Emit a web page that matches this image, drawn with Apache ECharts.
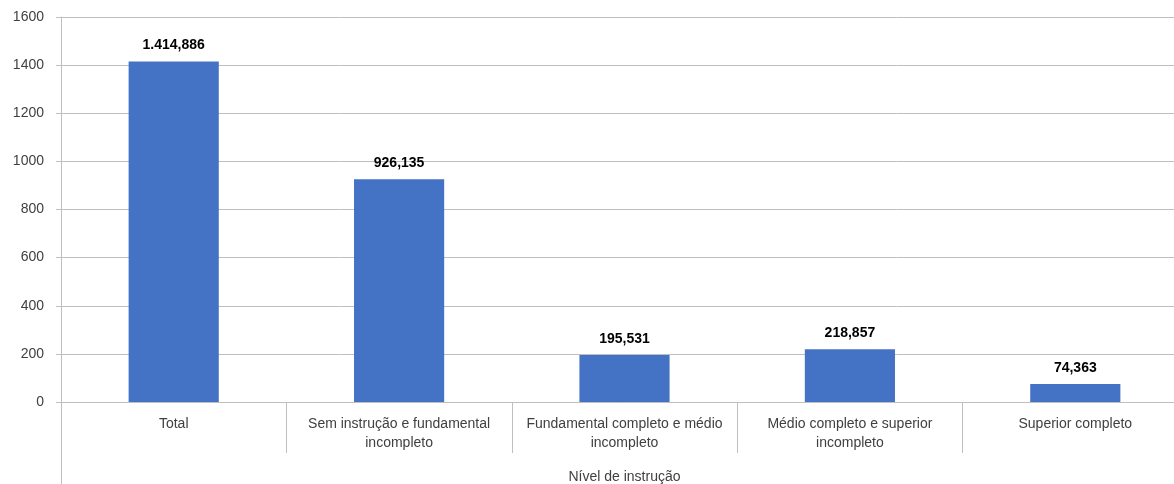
<!DOCTYPE html>
<html>
<head>
<meta charset="utf-8">
<script src="https://cdn.jsdelivr.net/npm/echarts@6/dist/echarts.min.js"></script>
<style>
html,body{margin:0;padding:0;background:#fff;}
#chart{width:1174px;height:484px;}
</style>
</head>
<body>
<div id="chart"></div>
<script>
const categories = [
  "Total",
  "Sem instrução e fundamental\nincompleto",
  "Fundamental completo e médio\nincompleto",
  "Médio completo e superior\nincompleto",
  "Superior completo"
];
const values = [1414.886, 926.135, 195.531, 218.857, 74.363];
const yTicks = { min: 0, max: 1600, interval: 200 };
const axisTitle = "Nível de instrução";

function fmt(v) {
  const parts = v.toFixed(3).split(".");
  const intPart = parts[0].replace(/\B(?=(\d{3})+(?!\d))/g, ".");
  return intPart + "," + parts[1];
}

const chart = echarts.init(document.getElementById('chart'), null, { renderer: 'canvas' });
const font = "Liberation Sans, Arial, sans-serif";
chart.setOption({
  animation: false,
  backgroundColor: '#ffffff',
  grid: { left: 61, right: -14, top: 17, bottom: 82, containLabel: false, outerBoundsMode: 'none' },
  xAxis: {
    type: 'category',
    data: categories,
    name: axisTitle,
    nameLocation: 'middle',
    nameGap: 68,
    nameTextStyle: { fontFamily: font, fontSize: 14, color: '#404040' },
    axisLine: { lineStyle: { color: '#bfbfbf', width: 1 } },
    axisTick: { show: true, length: 51, interval: 0, lineStyle: { color: '#bfbfbf' } },
    axisLabel: { interval: 0, margin: 13, fontFamily: font, fontSize: 14, color: '#404040', lineHeight: 19 }
  },
  yAxis: {
    type: 'value',
    min: yTicks.min, max: yTicks.max, interval: yTicks.interval,
    axisLine: { show: true, lineStyle: { color: '#bfbfbf' } },
    axisTick: { show: true, length: 5, lineStyle: { color: '#bfbfbf' } },
    axisLabel: { margin: 17, fontFamily: font, fontSize: 14, color: '#404040', formatter: v => String(v) },
    splitLine: { lineStyle: { color: '#bfbfbf', width: 1 } }
  },
  series: [{
    type: 'bar',
    data: values,
    barWidth: '40%',
    itemStyle: { color: '#4472c4' },
    label: {
      show: true, position: 'top', distance: 9,
      fontFamily: font, fontSize: 14, fontWeight: 'bold', color: '#000',
      formatter: p => fmt(p.value)
    }
  }],
  graphic: [{
    type: 'line',
    shape: { x1: 61.5, y1: 402, x2: 61.5, y2: 484 },
    style: { stroke: '#bfbfbf', lineWidth: 1 }
  }]
});
</script>
</body>
</html>
